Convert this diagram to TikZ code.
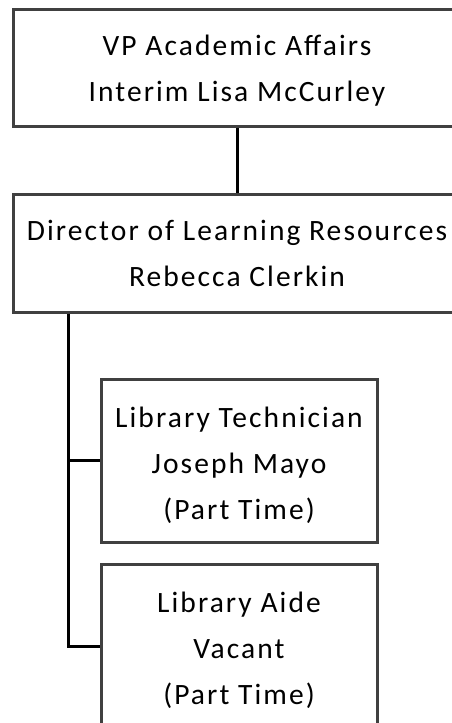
\documentclass[tikz,border=0pt]{standalone}
\usepackage{fontspec}
\setmainfont[LetterSpace=7]{Carlito}
% invisible strut that lowers a box's first line
\newcommand{\firstgap}[1]{\rule{0pt}{#1}}
\begin{document}
\begin{tikzpicture}[x=1pt,y=-1pt,
  orgbox/.style={draw=boxgray, line width=3pt, fill=white, inner sep=0pt,
    align=center, text=black, font=\fontsize{29.5}{46}\selectfont},
  link/.style={draw=black, line width=3pt}]
\definecolor{boxgray}{HTML}{404040}
\useasboundingbox (0,0) rectangle (452,723);
\clip (0,0) rectangle (452,723);
\fill[white] (0,0) rectangle (452,723);
% reporting line from the VP down to the director
\node[orgbox, minimum width=448pt, minimum height=117.5pt] (vp) at (237,67.75)
  {\firstgap{26pt}VP Academic Affairs\\Interim Lisa McCurley};
\node[orgbox, minimum width=448pt, minimum height=118pt] (dir) at (237,253)
  {Director of Learning Resources\\Rebecca Clerkin};
% staff reporting to the director
\node[orgbox, minimum width=276pt, minimum height=163pt] (tech) at (239,460.5)
  {\firstgap{30pt}Library Technician\\Joseph Mayo\\(Part Time)};
\node[orgbox, minimum width=276pt, minimum height=164pt] (aide) at (239,646)
  {\firstgap{30pt}Library Aide\\Vacant\\(Part Time)};
\coordinate (trunk) at (68,312);
\draw[link] (vp.south) -- (dir.north);
\draw[link] (dir.south -| trunk) |- (aide.west);
\draw[link] (tech.west -| trunk) -- (tech.west);
\end{tikzpicture}
\end{document}
